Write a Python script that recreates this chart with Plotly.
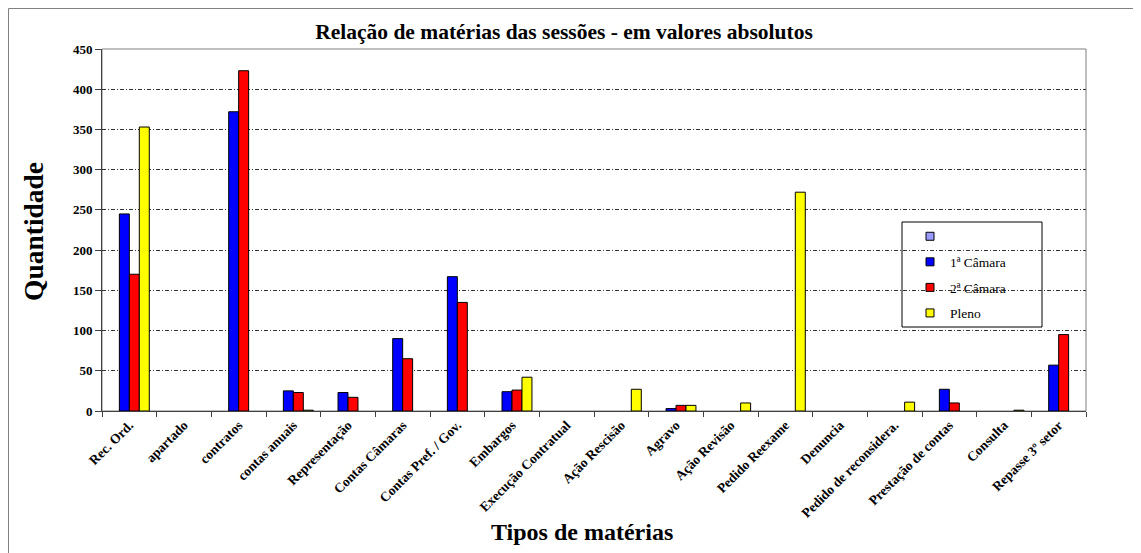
import plotly.graph_objects as go

categories = ["Rec. Ord.", "apartado", "contratos", "contas anuais", "Representação",
              "Contas Câmaras", "Contas Pref. / Gov.", "Embargos", "Execução Contratual",
              "Ação Rescisão", "Agravo", "Ação Revisão", "Pedido Reexame", "Denuncia",
              "Pedido de reconsidera.", "Prestação de contas", "Consulta", "Repasse 3º setor"]

serie_vazia = [0] * len(categories)
camara1 = [245, 0, 372, 25, 23, 90, 167, 24, 0, 0, 3, 0, 0, 0, 0, 27, 0, 57]
camara2 = [170, 0, 423, 23, 17, 65, 135, 26, 0, 0, 7, 0, 0, 0, 0, 10, 0, 95]
pleno = [353, 0, 0, 1, 0, 0, 0, 42, 0, 27, 7, 10, 272, 0, 11, 0, 1, 0]

series_names = ["", "1ª Câmara", "2ª Câmara", "Pleno"]
series_values = [serie_vazia, camara1, camara2, pleno]
series_colors = ["#9999FF", "#0000FF", "#FF0000", "#FFFF00"]

y_ticks = [0, 50, 100, 150, 200, 250, 300, 350, 400, 450]

FONT = "Liberation Serif, Times New Roman, serif"

fig = go.Figure()
for name, vals, col in zip(series_names, series_values, series_colors):
    fig.add_trace(go.Bar(x=categories, y=[v if v else None for v in vals], name=name,
                         showlegend=False,
                         marker=dict(color=col, line=dict(color="black", width=1))))
for i, (name, col) in enumerate(zip(series_names, series_colors)):
    fig.add_trace(go.Scatter(x=[None], y=[None], mode="markers", name=name,
                             legendgroup=f"g{i}",
                             marker=dict(symbol="square", size=8, color=col,
                                         line=dict(color="black", width=1))))

# page offset: the figure is placed 8px from the page corner
OFF = 8
W, H = 1141, 553
# plot area in page pixels
PL, PR, PT, PB = 102, 1086, 49, 411
L = PL - OFF
T = PT - OFF
R = W - (PR - OFF)
B = H - (PB - OFF)
pw, ph = PR - PL, PB - PT

def px_x(x):
    return (x - PL) / pw

def px_y(y):
    return (PB - y) / ph

fig.update_layout(
    width=W, height=H,
    margin=dict(l=L, r=R, t=T, b=B),
    paper_bgcolor="white", plot_bgcolor="white",
    barmode="group", bargap=0.27, bargroupgap=0,
    font=dict(family=FONT, color="black"),
    title=dict(text="Relação de matérias das sessões - em valores absolutos",
               font=dict(family=FONT, size=21.5, weight="bold", color="black"),
               x=(564 - OFF) / W, xref="container", xanchor="center",
               y=1 - (31 - OFF) / H, yref="container", yanchor="middle"),
    legend=dict(x=px_x(910), y=px_y(221), xanchor="left", yanchor="top",
                bgcolor="rgba(0,0,0,0)", borderwidth=0, tracegroupgap=5,
                font=dict(family=FONT, size=13.5, color="black")),
    xaxis=dict(type="category", tickangle=-45, ticks="outside", tickson="boundaries",
               ticklen=5, tickcolor="#404040", showline=True, linecolor="#404040",
               linewidth=1, showgrid=False,
               tickfont=dict(family=FONT, size=13.5, weight="bold", color="black")),
    yaxis=dict(range=[0, 450], tickvals=y_ticks, ticks="outside", ticklen=6,
               tickcolor="#404040", showline=True, linecolor="#404040", linewidth=1,
               showgrid=True, gridcolor="#333333", griddash="4px,2px,1px,2px", gridwidth=1,
               zeroline=False,
               tickfont=dict(family=FONT, size=13, weight="bold", color="black")),
    annotations=[
        dict(text="Quantidade", textangle=-90, xref="paper", yref="paper",
             x=px_x(33), y=px_y(232), xanchor="center", yanchor="middle",
             showarrow=False, font=dict(family=FONT, size=27.5, weight="bold", color="black")),
        dict(text="Tipos de matérias", xref="paper", yref="paper",
             x=px_x(582), y=px_y(532), xanchor="center", yanchor="middle",
             showarrow=False, font=dict(family=FONT, size=24, weight="bold", color="black")),
    ],
    shapes=[
        dict(type="rect", xref="paper", yref="paper", x0=0, x1=1, y0=0, y1=1,
             line=dict(color="#808080", width=1), layer="below"),
        dict(type="rect", xref="paper", yref="paper", x0=px_x(902), x1=px_x(1042),
             y0=px_y(327), y1=px_y(222), line=dict(color="black", width=1),
             fillcolor="white", layer="below"),
        dict(type="rect", xref="paper", yref="paper", x0=px_x(8.5), x1=px_x(1160),
             y0=px_y(570), y1=px_y(8.5), line=dict(color="#808080", width=1),
             layer="below"),
    ],
)

fig.write_html("out.html")
